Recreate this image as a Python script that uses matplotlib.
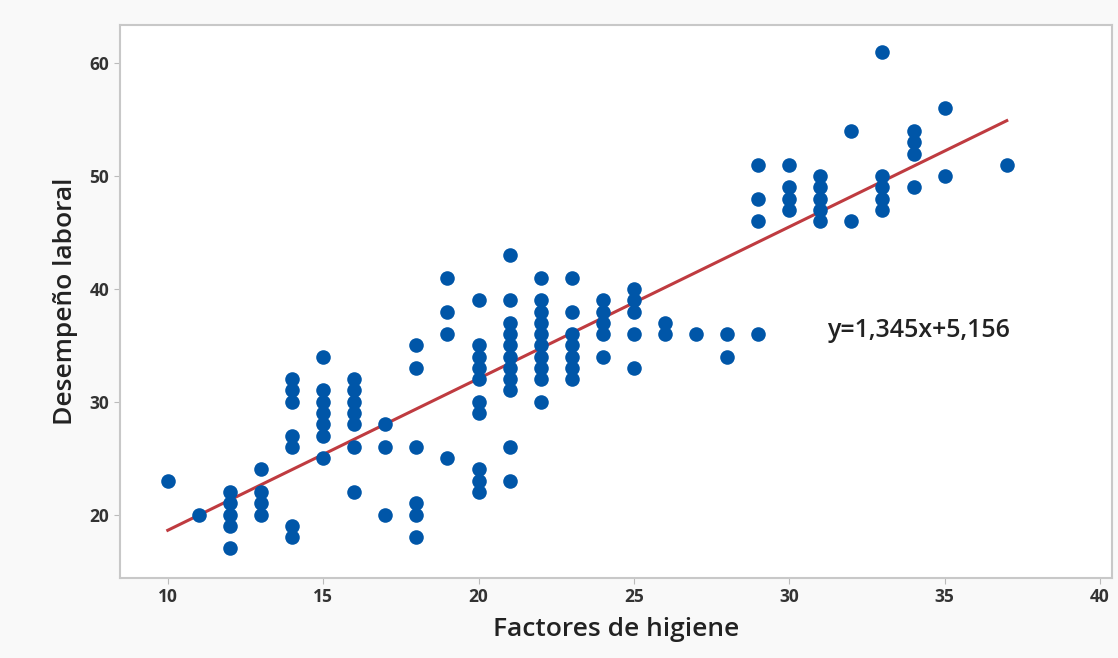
import numpy as np
import matplotlib
matplotlib.use('Agg')
import matplotlib.pyplot as plt

# Datos: factores de higiene (x) y desempeño laboral (y)
columnas = {
    10: [23],
    11: [20],
    12: [17, 19, 20, 21, 22],
    13: [20, 21, 22, 24],
    14: [18, 19, 26, 27, 30, 31, 32],
    15: [25, 27, 28, 29, 30, 31, 34],
    16: [22, 26, 28, 29, 30, 31, 32],
    17: [20, 26, 28],
    18: [18, 20, 21, 26, 33, 35],
    19: [25, 36, 38, 41],
    20: [22, 23, 24, 29, 30, 32, 33, 34, 35, 39],
    21: [23, 26, 31, 32, 33, 34, 35, 36, 37, 39, 43],
    22: [30, 32, 33, 34, 35, 36, 37, 38, 39, 41],
    23: [32, 33, 34, 35, 36, 38, 41],
    24: [34, 36, 37, 38, 39],
    25: [33, 36, 38, 39, 40],
    26: [36, 37],
    27: [36],
    28: [34, 36],
    29: [36, 46, 48, 51],
    30: [47, 48, 49, 51],
    31: [46, 47, 48, 49, 50],
    32: [46, 54],
    33: [47, 48, 49, 50, 61],
    34: [49, 52, 53, 54],
    35: [50, 56],
    37: [51],
}
higiene = np.array([x for x, ys in columnas.items() for _ in ys])
desempeno = np.array([y for ys in columnas.values() for y in ys])

pendiente = 1.345
intercepto = 5.156

plt.rcParams['font.family'] = ['Open Sans', 'DejaVu Sans']

fig = plt.figure(figsize=(11.18, 6.58), dpi=100)
fig.patch.set_facecolor('#f9f9f9')
ax = fig.add_axes([0.107, 0.122, 0.888, 0.840])
ax.set_facecolor('white')

ax.scatter(higiene, desempeno, s=110, color='#0056a8', zorder=3, linewidths=0)

x_linea = np.array([higiene.min(), higiene.max()])
ax.plot(x_linea, pendiente * x_linea + intercepto, color='#bf3b40', lw=2.2, zorder=2)

ax.text(31.2, 36.3, 'y=1,345x+5,156', fontsize=18, fontweight='semibold',
        color='#222222', ha='left', va='center')

ax.set_xlim(8.45, 40.4)
ax.set_ylim(14.4, 63.4)
ax.set_xticks([10, 15, 20, 25, 30, 35, 40])
ax.set_yticks([20, 30, 40, 50, 60])
ax.tick_params(labelsize=12.5, length=4, color='#bbbbbb', colors='#333333')
for lbl in ax.get_xticklabels() + ax.get_yticklabels():
    lbl.set_fontweight('bold')
for sp in ax.spines.values():
    sp.set_color('#c8c8c8')
    sp.set_linewidth(1.5)

ax.set_xlabel('Factores de higiene', fontsize=19, fontweight='semibold',
              color='#222222', labelpad=8)
ax.set_ylabel('Desempeño laboral', fontsize=19, fontweight='semibold',
              color='#222222', labelpad=8)

fig.savefig('out.png', dpi=100, facecolor=fig.get_facecolor())
